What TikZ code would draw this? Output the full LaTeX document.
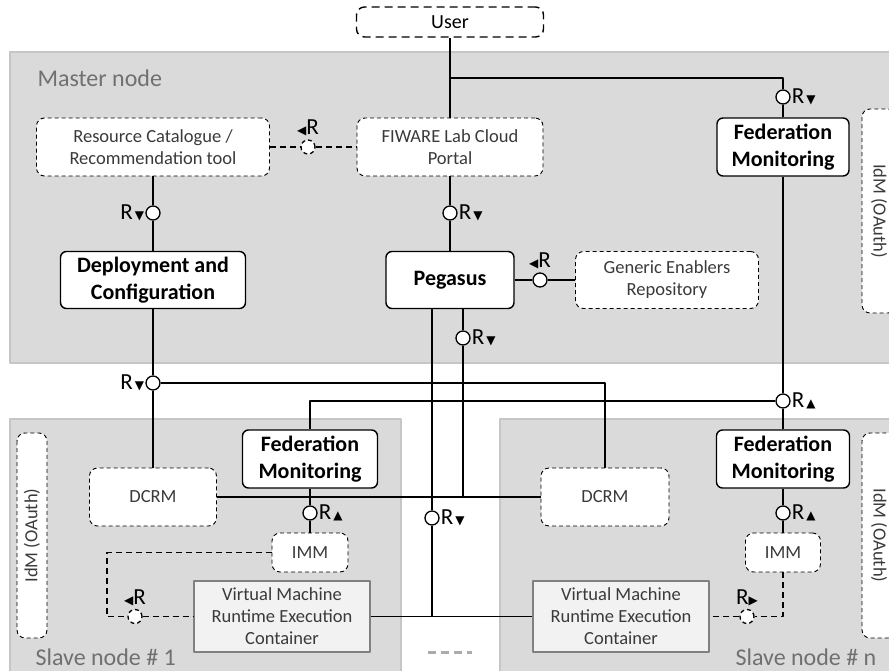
\documentclass[tikz,border=0pt]{standalone}
\usepackage{fontspec}
\setmainfont{Carlito}
\newfontfamily\symfont{DejaVu Sans}
\definecolor{areagray}{HTML}{DADADA}
\definecolor{arealine}{HTML}{C6C6C6}
\definecolor{vmgray}{HTML}{F2F2F2}
\definecolor{labgray}{HTML}{707070}
\definecolor{extgray}{HTML}{3A3A3A}
\newcommand{\tdown}{{\symfont\fontsize{12}{12}\selectfont\,▼}}
\newcommand{\tup}{{\symfont\fontsize{12}{12}\selectfont\,▲}}
\newcommand{\tleft}{{\symfont\fontsize{12}{12}\selectfont ◀}}
\newcommand{\tright}{{\symfont\fontsize{12}{12}\selectfont ▶}}
\begin{document}
\begin{tikzpicture}[x=1pt,y=-1pt,line join=round,
	area/.style={fill=areagray,draw=arealine,line width=1.5pt},
	comp/.style={draw,line width=1.4pt,rounded corners=6pt,fill=white,align=center,inner sep=0pt,font=\fontsize{22}{27}\selectfont\bfseries},
	ext/.style={draw,line width=0.9pt,dash pattern=on 4pt off 3pt,rounded corners=8pt,fill=white,align=center,inner sep=0pt,text=extgray,font=\fontsize{18.5}{22}\selectfont},
	vmbox/.style={draw=gray,line width=1.2pt,fill=vmgray,align=center,inner sep=0pt,text=extgray,font=\fontsize{18.5}{22}\selectfont},
	port/.style={circle,draw,line width=1.3pt,fill=white,inner sep=0pt,minimum size=14pt},
	dport/.style={port,dash pattern=on 4pt off 3pt},
	rlab/.style={font=\fontsize{23}{23}\selectfont,inner sep=1pt},
	arealab/.style={anchor=base west,text=labgray,font=\fontsize{24}{24}\selectfont},
	link/.style={line width=1.4pt},
	dlink/.style={line width=1.3pt,dash pattern=on 6pt off 4pt}]
	%	\draw[color=gray!50,dashed] (0,0) grid[step=50] (889,671);
	\clip (0,0) rectangle (889,671);
	\draw[area] (10,52) rectangle (905,363);
	\draw[area] (10,419) rectangle (401,690);
	\draw[area] (500,419) rectangle (905,690);
	\node (mlab) at (34,87)[arealab]{Master node};
	\node (s1lab) at (32,665)[arealab]{Slave node \# 1};
	\node (snlab) at (732,665)[arealab]{Slave node \# n};
	\draw[gray!65,line width=3pt,dash pattern=on 8pt off 5pt] (428,652)--(472,652);
	% master node
	\node (user) at (450,22)[ext,line width=1.4pt,dash pattern=on 8pt off 5pt,minimum width=187pt,minimum height=30pt,text=black,font=\fontsize{20}{20}\selectfont]{User};
	\node (rct) at (153,147)[ext,minimum width=233pt,minimum height=58pt]{Resource Catalogue /\\Recommendation tool};
	\node (portal) at (450,147)[ext,minimum width=186pt,minimum height=58pt]{FIWARE Lab Cloud\\Portal};
	\node (fedm) at (783,147)[comp,minimum width=132pt,minimum height=58pt]{Federation\\Monitoring};
	\node (idmm) at (879,211)[ext,rotate=-90,minimum width=204pt,minimum height=34pt]{IdM (OAuth)};
	\node (deploy) at (153,280)[comp,minimum width=185pt,minimum height=57pt]{Deployment and\\Configuration};
	\node (peg) at (450,280)[comp,minimum width=128pt,minimum height=57pt]{Pegasus};
	\node (ger) at (667,280)[ext,minimum width=183pt,minimum height=57pt]{Generic Enablers\\Repository};
	% slave nodes
	\node (idm1) at (32,535.5)[ext,rotate=90,minimum width=205pt,minimum height=30pt]{IdM (OAuth)};
	\node (idmn) at (879,535.5)[ext,rotate=-90,minimum width=205pt,minimum height=34pt]{IdM (OAuth)};
	\node (fed1) at (310,459)[comp,minimum width=135pt,minimum height=58pt]{Federation\\Monitoring};
	\node (fedn) at (783,459)[comp,minimum width=133pt,minimum height=58pt]{Federation\\Monitoring};
	\node (dcrm1) at (153,497)[ext,minimum width=127pt,minimum height=58pt]{DCRM};
	\node (dcrmn) at (605,497)[ext,minimum width=128pt,minimum height=58pt]{DCRM};
	\node (imm1) at (310,552.5)[ext,minimum width=76pt,minimum height=39pt]{IMM};
	\node (immn) at (783,552.5)[ext,minimum width=75pt,minimum height=39pt]{IMM};
	\node (vm1) at (282,616.5)[vmbox,minimum width=176pt,minimum height=71pt]{Virtual Machine\\Runtime Execution\\Container};
	\node (vmn) at (621,616.5)[vmbox,minimum width=176pt,minimum height=71pt]{Virtual Machine\\Runtime Execution\\Container};
	% ports
	\node (p1) at (783,97)[port,label={[rlab]right:R\tdown}]{};
	\node (p2) at (308,147)[dport,label={[rlab,yshift=2pt]above:\tleft R}]{};
	\node (p3) at (153,213)[port,label={[rlab]left:R\tdown}]{};
	\node (p4) at (450,213)[port,label={[rlab]right:R\tdown}]{};
	\node (p5) at (540,280)[port,label={[rlab,yshift=2pt]above:\tleft R}]{};
	\node (p6) at (463,338)[port,label={[rlab]right:R\tdown}]{};
	\node (p7) at (153,383)[port,label={[rlab]left:R\tdown}]{};
	\node (p8) at (783,401)[port,label={[rlab]right:R\tup}]{};
	\node (p9) at (432,518)[port,label={[rlab]right:R\tdown}]{};
	\node (p10) at (310,513)[port,label={[rlab]right:R\tup}]{};
	\node (p11) at (783,513)[port,label={[rlab]right:R\tup}]{};
	\node (p12) at (135,616.5)[dport,label={[rlab,yshift=2pt]above:\tleft R}]{};
	\node (p13) at (747,616.5)[dport,label={[rlab,yshift=2pt]above:R\tright}]{};
	\coordinate (ujoin) at (450,78);
	\coordinate (c1) at (107,616.5);
	% connectors
	\draw[link] (user)--(portal);
	\draw[link] (ujoin)-|(p1)--(fedm);
	\draw[dlink] (rct)--(p2)--(portal);
	\draw[link] (rct)--(p3)--(deploy);
	\draw[link] (portal)--(p4)--(peg);
	\draw[link] (peg)--(p5)--(ger);
	\draw[link] (deploy)--(p7)--(dcrm1);
	\draw[link] (p7)-|(dcrmn);
	\draw[link] (fedm)--(p8)--(fedn);
	\draw[link] (p8)-|(fed1);
	\draw[link] (dcrm1)--(dcrmn);
	\draw[link] (peg.south -| p6)--(p6)--(p6 |- dcrm1);
	\draw[link] (vm1)--(vmn);
	\draw[link] (peg.south -| p9)--(p9)--(p9 |- vm1);
	\draw[link] (fed1)--(p10)--(imm1);
	\draw[link] (fedn)--(p11)--(immn);
	\draw[dlink] (imm1)-|(c1)--(p12)--(vm1);
	\draw[dlink] (immn)|-(p13)--(vmn);
\end{tikzpicture}
\end{document}
